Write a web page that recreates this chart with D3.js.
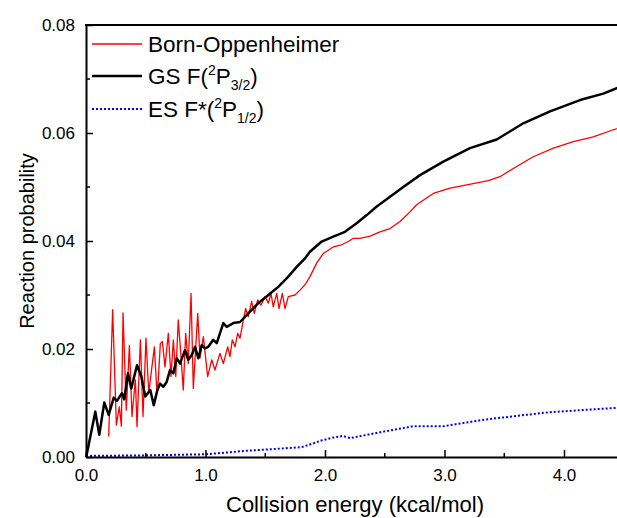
<!DOCTYPE html>
<html>
<head>
<meta charset="utf-8">
<script src="https://cdn.jsdelivr.net/npm/d3@7"></script>
<style>
  body { margin: 0; background: #fff; }
  text { font-family: "Liberation Sans", Arial, sans-serif; fill: #000; }
</style>
</head>
<body>
<script>
// Collision energy (kcal/mol), reaction probability
const bornOppenheimer = [
  [0.19, 0.0038], [0.223, 0.0273], [0.254, 0.0059], [0.279, 0.0093], [0.296, 0.0057],
  [0.31, 0.0267], [0.337, 0.0087], [0.363, 0.0206], [0.385, 0.0075], [0.413, 0.0143],
  [0.427, 0.0056], [0.455, 0.0217], [0.477, 0.0075], [0.502, 0.022], [0.525, 0.0118],
  [0.572, 0.0204], [0.594, 0.0118], [0.605, 0.0143], [0.622, 0.021], [0.639, 0.0214],
  [0.661, 0.0167], [0.689, 0.0229], [0.711, 0.0149], [0.731, 0.0217], [0.751, 0.0149],
  [0.772, 0.0254], [0.795, 0.0186], [0.814, 0.0124], [0.834, 0.0229], [0.856, 0.0173],
  [0.879, 0.0303], [0.898, 0.0127], [0.935, 0.0266], [0.954, 0.0183], [0.982, 0.0223],
  [1.018, 0.0149], [1.052, 0.018], [1.079, 0.0161], [1.121, 0.0192], [1.149, 0.0173],
  [1.186, 0.0204], [1.205, 0.0186], [1.224, 0.0217], [1.247, 0.0204], [1.269, 0.0229],
  [1.289, 0.022], [1.317, 0.0254], [1.336, 0.0275], [1.358, 0.026], [1.386, 0.0288],
  [1.408, 0.0266], [1.437, 0.0291], [1.464, 0.0281], [1.498, 0.0297], [1.526, 0.0285],
  [1.548, 0.0303], [1.567, 0.0278], [1.596, 0.0303], [1.615, 0.0275], [1.643, 0.0303],
  [1.665, 0.0275], [1.693, 0.0297], [1.749, 0.03], [1.791, 0.0309], [1.833, 0.0319],
  [1.874, 0.0334], [1.93, 0.0359], [1.986, 0.0377], [2.069, 0.0389], [2.14, 0.0393],
  [2.195, 0.0399], [2.237, 0.0405], [2.293, 0.0405], [2.377, 0.0409], [2.46, 0.0417],
  [2.544, 0.0423], [2.628, 0.0436], [2.711, 0.0454], [2.767, 0.0467], [2.906, 0.0488],
  [3.046, 0.0498], [3.186, 0.0504], [3.367, 0.0512], [3.464, 0.0519], [3.604, 0.0538],
  [3.743, 0.0556], [3.911, 0.0572], [4.078, 0.0584], [4.245, 0.0593], [4.413, 0.0606],
  [4.5, 0.0612]
];

const groundState = [
  [0, 0], [0.008, 0.0007], [0.078, 0.0084], [0.111, 0.0041], [0.153, 0.0101],
  [0.19, 0.0078], [0.232, 0.011], [0.259, 0.0104], [0.301, 0.0118], [0.32, 0.0107],
  [0.351, 0.0155], [0.379, 0.0127], [0.427, 0.017], [0.463, 0.0149], [0.496, 0.0112],
  [0.538, 0.0124], [0.567, 0.0096], [0.594, 0.0121], [0.619, 0.0136], [0.647, 0.013],
  [0.675, 0.0139], [0.703, 0.0161], [0.731, 0.0155], [0.759, 0.0183], [0.787, 0.0173],
  [0.828, 0.0198], [0.856, 0.018], [0.885, 0.0189], [0.912, 0.0204], [0.94, 0.0183],
  [0.968, 0.0207], [0.996, 0.0201], [1.023, 0.0204], [1.065, 0.0217], [1.094, 0.0211],
  [1.149, 0.0248], [1.177, 0.0241], [1.233, 0.0248], [1.289, 0.025], [1.358, 0.0266],
  [1.442, 0.0285], [1.526, 0.03], [1.609, 0.0315], [1.693, 0.0334], [1.763, 0.0352],
  [1.833, 0.0368], [1.874, 0.038], [1.972, 0.0399], [2.069, 0.0408], [2.167, 0.0417],
  [2.265, 0.0433], [2.349, 0.0448], [2.433, 0.0464], [2.544, 0.0482], [2.655, 0.05],
  [2.795, 0.0522], [2.99, 0.0547], [3.213, 0.0572], [3.437, 0.0588], [3.659, 0.0618],
  [3.883, 0.064], [4.134, 0.0661], [4.329, 0.0673], [4.441, 0.0683], [4.5, 0.0688]
];

const excitedState = [
  [0, 0.0002], [0.5, 0.0003], [1.0, 0.0005], [1.37, 0.0012], [1.8, 0.0018],
  [1.9, 0.0025], [1.975, 0.0031], [2.07, 0.0036], [2.15, 0.0039], [2.21, 0.0035],
  [2.49, 0.0047], [2.74, 0.0057], [2.99, 0.0057], [3.33, 0.0069], [3.6, 0.0076],
  [3.88, 0.0083], [4.16, 0.0087], [4.44, 0.0091], [4.5, 0.0092]
];

const xTicks = [0, 1, 2, 3, 4];
const xMinorTicks = [0.5, 1.5, 2.5, 3.5];
const yTicks = [0, 0.02, 0.04, 0.06, 0.08];
const yMinorTicks = [0.01, 0.03, 0.05, 0.07];

const W = 617, H = 518;
const margin = {left: 86, top: 25, bottom: 61};

const svg = d3.select("body").append("svg")
    .attr("width", W)
    .attr("height", H);

const x = d3.scaleLinear().domain([0, 4.5]).range([margin.left, margin.left + 4.5 * 119.5]);
const y = d3.scaleLinear().domain([0, 0.08]).range([H - margin.bottom, margin.top]);

const line = d3.line().x(d => x(d[0])).y(d => y(d[1]));

// curves
svg.append("path")
    .datum(excitedState)
    .attr("fill", "none")
    .attr("stroke", "#0000ff")
    .attr("stroke-width", 2)
    .attr("stroke-dasharray", "2,2")
    .attr("d", line);

svg.append("path")
    .datum(bornOppenheimer)
    .attr("fill", "none")
    .attr("stroke", "#ff0000")
    .attr("stroke-width", 1.3)
    .attr("stroke-linejoin", "round")
    .attr("d", line);

svg.append("path")
    .datum(groundState)
    .attr("fill", "none")
    .attr("stroke", "#000")
    .attr("stroke-width", 2.5)
    .attr("stroke-linejoin", "round")
    .attr("d", line);

// axes (ticks pointing inward)
const xAxis = d3.axisBottom(x)
    .tickValues(xTicks)
    .tickFormat(d3.format(".1f"))
    .tickSizeInner(-7)
    .tickSizeOuter(0)
    .tickPadding(12);

const gx = svg.append("g")
    .attr("transform", "translate(0," + y(0) + ")")
    .call(xAxis);

gx.selectAll(".minor")
    .data(xMinorTicks)
    .enter()
    .append("line")
    .attr("x1", d => x(d)).attr("x2", d => x(d))
    .attr("y1", 0).attr("y2", -4)
    .attr("stroke", "#000").attr("stroke-width", 1.5);

const yAxis = d3.axisLeft(y)
    .tickValues(yTicks)
    .tickFormat(d3.format(".2f"))
    .tickSizeInner(-7)
    .tickSizeOuter(0)
    .tickPadding(11);

const gy = svg.append("g")
    .attr("transform", "translate(" + x(0) + ",0)")
    .call(yAxis);

gy.selectAll(".minor")
    .data(yMinorTicks)
    .enter()
    .append("line")
    .attr("x1", 0).attr("x2", 4)
    .attr("y1", d => y(d)).attr("y2", d => y(d))
    .attr("stroke", "#000").attr("stroke-width", 1.5);

[gx, gy].forEach(g => {
    g.select(".domain").attr("stroke-width", 2);
    g.selectAll(".tick line").attr("stroke-width", 1.5);
    g.selectAll(".tick text")
        .style("font-family", "'Liberation Sans', Arial, sans-serif")
        .style("font-size", "17px");
});

// top frame
svg.append("line")
    .attr("x1", x(0) - 1).attr("x2", W)
    .attr("y1", y(0.08)).attr("y2", y(0.08))
    .attr("stroke", "#000").attr("stroke-width", 2);

// axis titles
svg.append("text")
    .attr("x", 355)
    .attr("y", 512)
    .style("text-anchor", "middle")
    .style("font-size", "22px")
    .text("Collision energy (kcal/mol)");

svg.append("text")
    .attr("transform", "translate(34," + ((y(0) + y(0.08)) / 2) + ") rotate(-90)")
    .style("text-anchor", "middle")
    .style("font-size", "20px")
    .text("Reaction probability");

// legend
const legend = svg.append("g");
const rows = [
    {color: "#ff0000", width: 1.3, dash: null, y: 44},
    {color: "#000", width: 2.5, dash: null, y: 76},
    {color: "#0000ff", width: 2, dash: "2,2", y: 109}
];
rows.forEach(r => {
    legend.append("line")
        .attr("x1", 92).attr("x2", 142)
        .attr("y1", r.y).attr("y2", r.y)
        .attr("stroke", r.color)
        .attr("stroke-width", r.width)
        .attr("stroke-dasharray", r.dash);
});

legend.append("text")
    .attr("x", 148).attr("y", 52)
    .style("font-size", "22.5px")
    .text("Born-Oppenheimer");

const t2 = legend.append("text")
    .attr("x", 148).attr("y", 84)
    .style("font-size", "22.5px");
t2.append("tspan").text("GS F(");
t2.append("tspan").attr("dy", -9).style("font-size", "14px").text("2");
t2.append("tspan").attr("dy", 9).text("P");
t2.append("tspan").attr("dy", 6).style("font-size", "14px").text("3/2");
t2.append("tspan").attr("dy", -6).text(")");

const t3 = legend.append("text")
    .attr("x", 148).attr("y", 117)
    .style("font-size", "22.5px");
t3.append("tspan").text("ES F*(");
t3.append("tspan").attr("dy", -9).style("font-size", "14px").text("2");
t3.append("tspan").attr("dy", 9).text("P");
t3.append("tspan").attr("dy", 6).style("font-size", "14px").text("1/2");
t3.append("tspan").attr("dy", -6).text(")");
</script>
</body>
</html>
